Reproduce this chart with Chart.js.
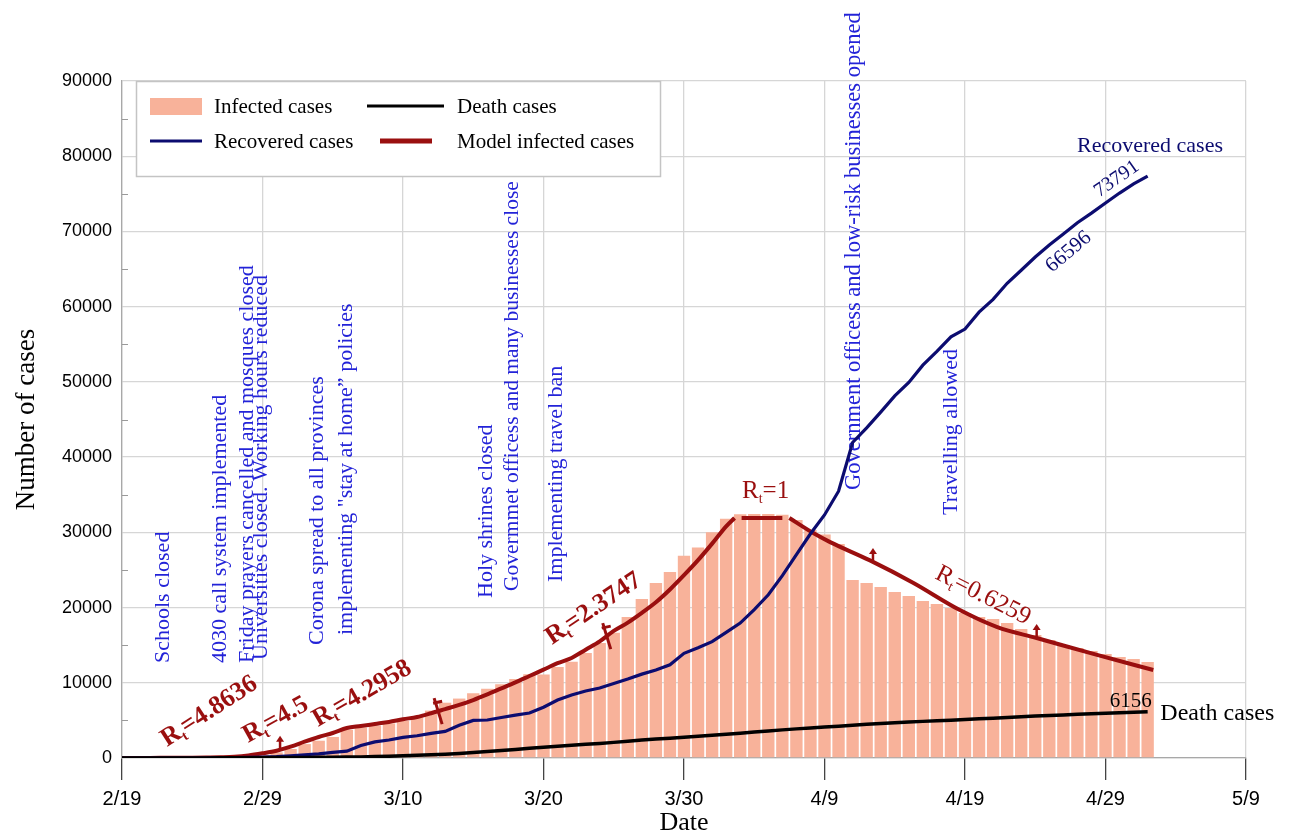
<!DOCTYPE html>
<html>
<head>
<meta charset="utf-8">
<script src="https://cdn.jsdelivr.net/npm/chart.js"></script>
<style>
  html, body { margin: 0; padding: 0; background: #fff; }
</style>
</head>
<body>
<canvas id="chart" width="1289" height="833"></canvas>
<script>
// day 0 = 2/19, one value per day up to 5/2
const tickLabels = ['2/19', '2/29', '3/10', '3/20', '3/30', '4/9', '4/19', '4/29', '5/9'];

const infected = [
  0, 3, 14, 23, 35, 49, 79, 71, 170, 281, 427,
  750, 1200, 1850, 2300, 2800, 3750, 4050, 4300, 4600, 4950,
  5500, 6300, 7350, 7900, 8600, 9200, 9820, 10500, 11150, 11100,
  12100, 12800, 13950, 15300, 16650, 18760, 21150, 23260, 24720, 26900,
  28000, 30000, 31800, 32400, 32450, 32450, 32350, 31640, 30300, 29700,
  28440, 23670, 23270, 22740, 22070, 21540, 20870, 20470, 19940, 19280,
  18750, 18480, 17950, 17150, 16350, 15690, 15020, 14620, 14220, 13820,
  13420, 13160, 12760
];

const recovered = [
  0, 0, 0, 0, 0, 0, 0, 49, 49, 73, 123,
  175, 291, 435, 552, 739, 913, 1669, 2134, 2394, 2731,
  2959, 3276, 3529, 4339, 4990, 5050, 5389, 5710, 5980, 6745,
  7700, 8376, 8913, 9300, 9900, 10500, 11150, 11700, 12400, 13911,
  14656, 15473, 16711, 17935, 19736, 21700, 24236, 27039, 29812, 32309,
  35465, 41947, 43894, 45983, 48129, 49933, 52229, 54064, 55987, 57023,
  59273, 60965, 63113, 64843, 66599, 68193, 69657, 71166, 72439, 73791,
  75103, 76318, 77350
];

const deaths = [
  2, 2, 4, 5, 8, 12, 16, 19, 26, 34,
  43, 54, 66, 77, 92, 107, 124, 145, 194, 237,
  291, 354, 429, 514, 611, 724, 853, 988, 1135, 1284,
  1433, 1556, 1685, 1812, 1934, 2077, 2234, 2378, 2517, 2640,
  2757, 2898, 3036, 3160, 3294, 3452, 3603, 3739, 3872, 3993,
  4110, 4232, 4357, 4474, 4585, 4683, 4777, 4869, 4958, 5031,
  5118, 5209, 5297, 5391, 5481, 5574, 5650, 5710, 5806, 5877,
  5957, 6028, 6091, 6156
];

// model curve in three pieces, null = break
const modelDays = [
  0, 1, 2, 3, 4, 5, 6, 7, 8, 9, 10, 11, 12, 13, 14, 15, 16, 17, 18, 19, 20,
  21, 22, 23, 24, 25, 26, 27, 28, 29, 30, 31, 32, 33, 34, 35, 36, 37, 38, 39, 40,
  41, 42, 43, 43.6,
  43.85,
  44.1, 47.0,
  47.25,
  47.5, 49.2, 50.4, 53.2, 56.3, 59.6, 62.3, 65.1, 69.4, 73.4
];
const modelValues = [
  0, 5, 10, 20, 30, 45, 70, 100, 160, 330, 620, 970, 1500, 2170, 2790, 3320, 3990, 4250, 4520, 4790, 5150,
  5450, 5950, 6500, 7050, 7700, 8450, 9250, 10050, 10900, 11750, 12600, 13300, 14400, 15500, 16900, 18000, 19300, 20700, 22400, 24300,
  26300, 28500, 30800, 31900,
  null,
  31900, 31900,
  null,
  31900, 29900, 28700, 26300, 23300, 19700, 17400, 15950, 13700, 11700
];

const eventLabels = [
  'Schools closed',
  '4030 call system implemented',
  'Friday prayers cancelled and mosques closed',
  'Universities closed. Working hours reduced',
  'Corona spread to all provinces',
  'implementing "stay at home\u201D policies',
  'Holy shrines closed',
  'Govermmet officess and many businesses close',
  'Implementing travel ban',
  'Government officess and low-risk businesses opened',
  'Travelling allowed'
];

const SERIF = '"Liberation Serif", "Times New Roman", serif';
const SANS = '"Liberation Sans", Arial, sans-serif';
const RED = '#9a0f0f';
const NAVY = '#0c0c70';
const BLUE = '#2323d8';
const SALMON = '#f8b29a';

function modelAt(day) {
  for (let i = 1; i < modelDays.length; i++) {
    const a = modelValues[i - 1], b = modelValues[i];
    if (a == null || b == null) continue;
    if (day >= modelDays[i - 1] && day <= modelDays[i]) {
      const t = (day - modelDays[i - 1]) / (modelDays[i] - modelDays[i - 1]);
      return a + (b - a) * t;
    }
  }
  return 0;
}

function rtLabel(ctx, x, y, deg, val, bold, size) {
  const w = bold ? 'bold ' : '';
  ctx.save();
  ctx.translate(x, y);
  ctx.rotate(deg * Math.PI / 180);
  ctx.textAlign = 'left';
  ctx.textBaseline = 'alphabetic';
  ctx.font = w + size + 'px ' + SERIF;
  ctx.fillText('R', 0, 0);
  let off = ctx.measureText('R').width;
  ctx.font = w + Math.round(size * 0.55) + 'px ' + SERIF;
  ctx.fillText('t', off, size * 0.18);
  off += ctx.measureText('t').width;
  ctx.font = w + size + 'px ' + SERIF;
  ctx.fillText('=' + val, off, 0);
  ctx.restore();
}

function rotText(ctx, text, x, y, deg) {
  ctx.save();
  ctx.translate(x, y);
  ctx.rotate(deg * Math.PI / 180);
  ctx.fillText(text, 0, 0);
  ctx.restore();
}

const overlay = {
  id: 'overlay',
  beforeDatasetsDraw(chart) {
    const { ctx, scales: { x, y } } = chart;
    // minor ticks on the value axis
    ctx.save();
    ctx.strokeStyle = '#9a9a9a';
    ctx.lineWidth = 1;
    for (let v = 5000; v < 90000; v += 10000) {
      const py = Math.round(y.getPixelForValue(v)) + 0.5;
      ctx.beginPath();
      ctx.moveTo(x.left, py);
      ctx.lineTo(x.left + 6, py);
      ctx.stroke();
    }
    // event notes, reading upwards: [day, value at text start, font size]
    const spots = [
      [2.95, 12630, 22], [7.0, 12630, 22], [8.9, 12630, 22], [9.9, 13030, 22], [13.9, 15020, 22], [15.95, 16350, 22],
      [25.95, 21270, 22], [27.8, 22200, 21.5], [30.9, 23400, 22], [52.1, 35630, 22.5], [59.0, 32300, 22]
    ];
    ctx.fillStyle = BLUE;
    ctx.textAlign = 'left';
    ctx.textBaseline = 'middle';
    eventLabels.forEach((t, i) => {
      ctx.font = spots[i][2] + 'px ' + SERIF;
      rotText(ctx, t, x.getPixelForValue(spots[i][0]), y.getPixelForValue(spots[i][1]), -90);
    });
    ctx.restore();
  },
  afterDatasetsDraw(chart) {
    const { ctx, scales: { x, y } } = chart;
    const P = (d, v) => [x.getPixelForValue(d), y.getPixelForValue(v)];
    ctx.save();

    // marks on the model curve
    ctx.strokeStyle = RED;
    ctx.fillStyle = RED;
    ctx.lineWidth = 2.5;
    [11.25, 53.45, 65.1].forEach(d => {
      const [px, py] = P(d, modelAt(d));
      ctx.beginPath();
      ctx.moveTo(px, py);
      ctx.lineTo(px, py - 9);
      ctx.stroke();
      ctx.beginPath();
      ctx.moveTo(px - 4, py - 8);
      ctx.lineTo(px + 4, py - 8);
      ctx.lineTo(px, py - 14);
      ctx.closePath();
      ctx.fill();
    });
    [22.5, 34.5].forEach(d => {
      const [px, py] = P(d, modelAt(d));
      ctx.lineWidth = 3;
      ctx.beginPath();
      ctx.moveTo(px - 4, py - 13);
      ctx.lineTo(px + 4, py + 13);
      ctx.stroke();
      ctx.beginPath();
      ctx.moveTo(px - 5, py - 8);
      ctx.lineTo(px + 4, py - 10);
      ctx.stroke();
    });

    // reproduction number labels
    ctx.fillStyle = RED;
    let p;
    p = P(3.2, 1460);   rtLabel(ctx, p[0], p[1], -33, '4.8636', true, 26);
    p = P(8.97, 1990);  rtLabel(ctx, p[0], p[1], -29, '4.5', true, 26);
    p = P(13.95, 4120); rtLabel(ctx, p[0], p[1], -30, '4.2958', true, 26);
    p = P(30.6, 15020); rtLabel(ctx, p[0], p[1], -34, '2.3747', true, 26);
    p = P(44.13, 34560); rtLabel(ctx, p[0], p[1], 0, '1', false, 25);
    p = P(57.8, 23930); rtLabel(ctx, p[0], p[1], 27, '0.6259', false, 25);

    // end-of-line labels
    ctx.textAlign = 'left';
    ctx.textBaseline = 'alphabetic';
    ctx.fillStyle = '#000';
    ctx.font = '21px ' + SERIF;
    p = P(70.3, 6780); ctx.fillText('6156', p[0], p[1]);
    ctx.font = '24px ' + SERIF;
    ctx.textBaseline = 'middle';
    p = P(73.9, 5850); ctx.fillText('Death cases', p[0], p[1]);
    ctx.textBaseline = 'alphabetic';
    ctx.fillStyle = NAVY;
    ctx.font = '22px ' + SERIF;
    p = P(67.97, 80560); ctx.fillText('Recovered cases', p[0], p[1]);
    ctx.font = '20px ' + SERIF;
    p = P(69.55, 74500); rotText(ctx, '73791', p[0], p[1], -35);
    ctx.font = '21px ' + SERIF;
    p = P(66.2, 64480); rotText(ctx, '66596', p[0], p[1], -40);
    ctx.restore();
  },
  afterDraw(chart) {
    const { ctx, chartArea } = chart;
    const L = chartArea.left + 14, T = chartArea.top;
    ctx.save();
    ctx.fillStyle = '#fff';
    ctx.fillRect(L, T, 524, 95);
    ctx.strokeStyle = '#c4c4c4';
    ctx.lineWidth = 1.5;
    ctx.strokeRect(L + 0.5, T + 0.5, 524, 95);
    const r1 = T + 25, r2 = T + 60;
    ctx.fillStyle = SALMON;
    ctx.fillRect(L + 14, r1 - 8, 52, 17);
    const seg = (x1, x2, yy, col, w) => {
      ctx.strokeStyle = col;
      ctx.lineWidth = w;
      ctx.beginPath();
      ctx.moveTo(x1, yy);
      ctx.lineTo(x2, yy);
      ctx.stroke();
    };
    seg(L + 231, L + 308, r1, '#000', 3);
    seg(L + 14, L + 66, r2, NAVY, 3);
    seg(L + 244, L + 296, r2, RED, 5);
    ctx.fillStyle = '#000';
    ctx.font = '21px ' + SERIF;
    ctx.textAlign = 'left';
    ctx.textBaseline = 'middle';
    ctx.fillText('Infected cases', L + 78, r1 + 1);
    ctx.fillText('Death cases', L + 321, r1 + 1);
    ctx.fillText('Recovered cases', L + 78, r2 + 1);
    ctx.fillText('Model infected cases', L + 321, r2 + 1);
    ctx.restore();
  }
};

const toPoints = (arr) => arr.map((v, i) => ({ x: i, y: v }));

new Chart(document.getElementById('chart'), {
  type: 'line',
  data: {
    datasets: [
      {
        type: 'bar',
        label: 'Infected cases',
        data: toPoints(infected),
        backgroundColor: SALMON,
        borderWidth: 0,
        barPercentage: 1,
        categoryPercentage: 0.88,
        order: 4
      },
      {
        label: 'Recovered cases',
        data: toPoints(recovered),
        borderColor: NAVY,
        borderWidth: 3.2,
        pointRadius: 0,
        tension: 0,
        order: 2
      },
      {
        label: 'Model infected cases',
        data: modelDays.map((d, i) => ({ x: d, y: modelValues[i] })),
        borderColor: RED,
        borderWidth: 4,
        pointRadius: 0,
        cubicInterpolationMode: 'monotone',
        spanGaps: false,
        order: 3
      },
      {
        label: 'Death cases',
        data: toPoints(deaths),
        borderColor: '#000',
        borderWidth: 3.5,
        pointRadius: 0,
        tension: 0,
        order: 1
      }
    ]
  },
  options: {
    responsive: false,
    animation: false,
    layout: { padding: { top: 81, right: 43, left: 0, bottom: 0 } },
    plugins: {
      legend: { display: false },
      tooltip: { enabled: false }
    },
    scales: {
      x: {
        type: 'linear',
        min: 0,
        max: 80,
        offset: false,
        afterFit(s) { s.height = 75; },
        ticks: {
          stepSize: 10,
          autoSkip: false,
          maxRotation: 0,
          padding: 7,
          color: '#000',
          font: { family: SANS, size: 20 },
          callback: (v) => tickLabels[v / 10]
        },
        grid: { offset: false, color: '#d6d6d6', tickColor: '#444', tickLength: 22, lineWidth: 1.3 },
        border: { color: '#a8a8a8', width: 1.3 },
        title: {
          display: true,
          text: 'Date',
          color: '#000',
          font: { family: SERIF, size: 26, lineHeight: 1 },
          padding: { top: 0, bottom: -3 }
        }
      },
      y: {
        min: 0,
        max: 90000,
        afterFit(s) { s.width = 122; },
        ticks: {
          stepSize: 10000,
          padding: 10,
          color: '#000',
          font: { family: SANS, size: 18 },
          callback: (v) => String(v)
        },
        grid: { color: '#d6d6d6', drawTicks: false, lineWidth: 1.3 },
        border: { color: '#a8a8a8', width: 1.3 },
        title: {
          display: true,
          text: 'Number of cases',
          color: '#000',
          font: { family: SERIF, size: 27, lineHeight: 1 },
          padding: { top: 13, bottom: 0 }
        }
      }
    }
  },
  plugins: [overlay]
});
</script>
</body>
</html>
